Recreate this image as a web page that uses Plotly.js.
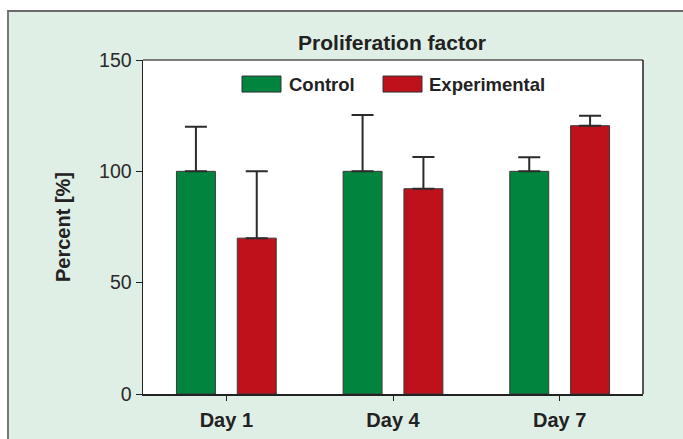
<!DOCTYPE html>
<html>
<head>
<meta charset="utf-8">
<script src="https://cdn.plot.ly/plotly-3.0.1.min.js"></script>
<style>
html,body{margin:0;padding:0;background:#ffffff;}
#frame{position:absolute;left:7px;top:10px;width:676px;height:429px;background:#e0efe5;border-left:2px solid #777777;border-top:2px solid #6a6a6a;}
#chart{position:absolute;left:0;top:0;width:683px;height:439px;}
</style>
</head>
<body>
<div id="frame"></div>
<div id="chart"></div>
<script>
const categories = ["Day 1", "Day 4", "Day 7"];
const controlValues = [100, 100, 100];
const controlErrors = [20, 25.3, 6.3];
const experimentalValues = [70, 92.2, 120.5];
const experimentalErrors = [30, 14.2, 4.5];
const seriesNames = ["Control", "Experimental"];
const yTicks = [0, 50, 100, 150];

const green = "#00843e";
const red = "#bf111b";
const font = "Liberation Sans, Arial, sans-serif";

function barTrace(name, y, err, color) {
  return {
    type: "bar", name: name, x: categories, y: y,
    marker: {color: color, line: {color: "#3a3a3a", width: 1}},
    error_y: {type: "data", array: err, arrayminus: err.map(() => 0), symmetric: false,
              color: "#2b2b2b", thickness: 2, width: 11},
    showlegend: false
  };
}

const data = [
  barTrace(seriesNames[0], controlValues, controlErrors, green),
  barTrace(seriesNames[1], experimentalValues, experimentalErrors, red)
];

const layout = {
  width: 683, height: 439,
  margin: {l: 143, r: 40, t: 60, b: 45},
  paper_bgcolor: "rgba(0,0,0,0)",
  plot_bgcolor: "#ffffff",
  barmode: "group", bargap: 0.27, bargroupgap: 0.36,
  title: {text: "<b>Proliferation factor</b>", font: {family: font, size: 21, color: "#222"},
          x: 0.574, xanchor: "center", y: 0.902, yanchor: "middle"},
  xaxis: {
    range: [-0.5, 2.5], showline: true, linecolor: "#222", linewidth: 1.5, mirror: false,
    ticks: "outside", ticklen: 5, tickcolor: "#222", tickwidth: 1,
    tickfont: {family: font, size: 20, color: "#222"}, ticklabelstandoff: 2,
    tickvals: [0,1,2], ticktext: categories.map(c => "<b>" + c + "</b>"),
    showgrid: false, zeroline: false
  },
  yaxis: {
    range: [0, 150], tickvals: yTicks, ticktext: yTicks.map(String),
    showline: true, linecolor: "#222", linewidth: 1.5,
    ticks: "outside", ticklen: 6, tickcolor: "#222", tickwidth: 1,
    tickfont: {family: font, size: 19.5, color: "#2a2a2a"},
    showgrid: false, zeroline: false,
    title: {text: "<b>Percent [%]</b>", font: {family: font, size: 20, color: "#222"}, standoff: 23}
  },
  shapes: [
    {type: "line", xref: "paper", yref: "paper", x0: 0, x1: 1, y0: 1, y1: 1, line: {color: "#555", width: 1.5}},
    {type: "line", xref: "paper", yref: "paper", x0: 1, x1: 1, y0: 0, y1: 1, line: {color: "#222", width: 1.5}},
    {type: "rect", xref: "paper", yref: "paper", x0: 0.198, x1: 0.276, y0: 0.904, y1: 0.952,
     fillcolor: green, line: {color: "#333", width: 1}},
    {type: "rect", xref: "paper", yref: "paper", x0: 0.480, x1: 0.558, y0: 0.904, y1: 0.952,
     fillcolor: red, line: {color: "#333", width: 1}}
  ],
  annotations: [
    {xref: "paper", yref: "paper", x: 0.288, y: 0.928, xanchor: "left", yanchor: "middle", showarrow: false,
     text: "<b>" + seriesNames[0] + "</b>", font: {family: font, size: 18.5, color: "#222"}},
    {xref: "paper", yref: "paper", x: 0.568, y: 0.928, xanchor: "left", yanchor: "middle", showarrow: false,
     text: "<b>" + seriesNames[1] + "</b>", font: {family: font, size: 18.5, color: "#222"}}
  ]
};

Plotly.newPlot("chart", data, layout, {displayModeBar: false, staticPlot: true});
</script>
</body>
</html>
